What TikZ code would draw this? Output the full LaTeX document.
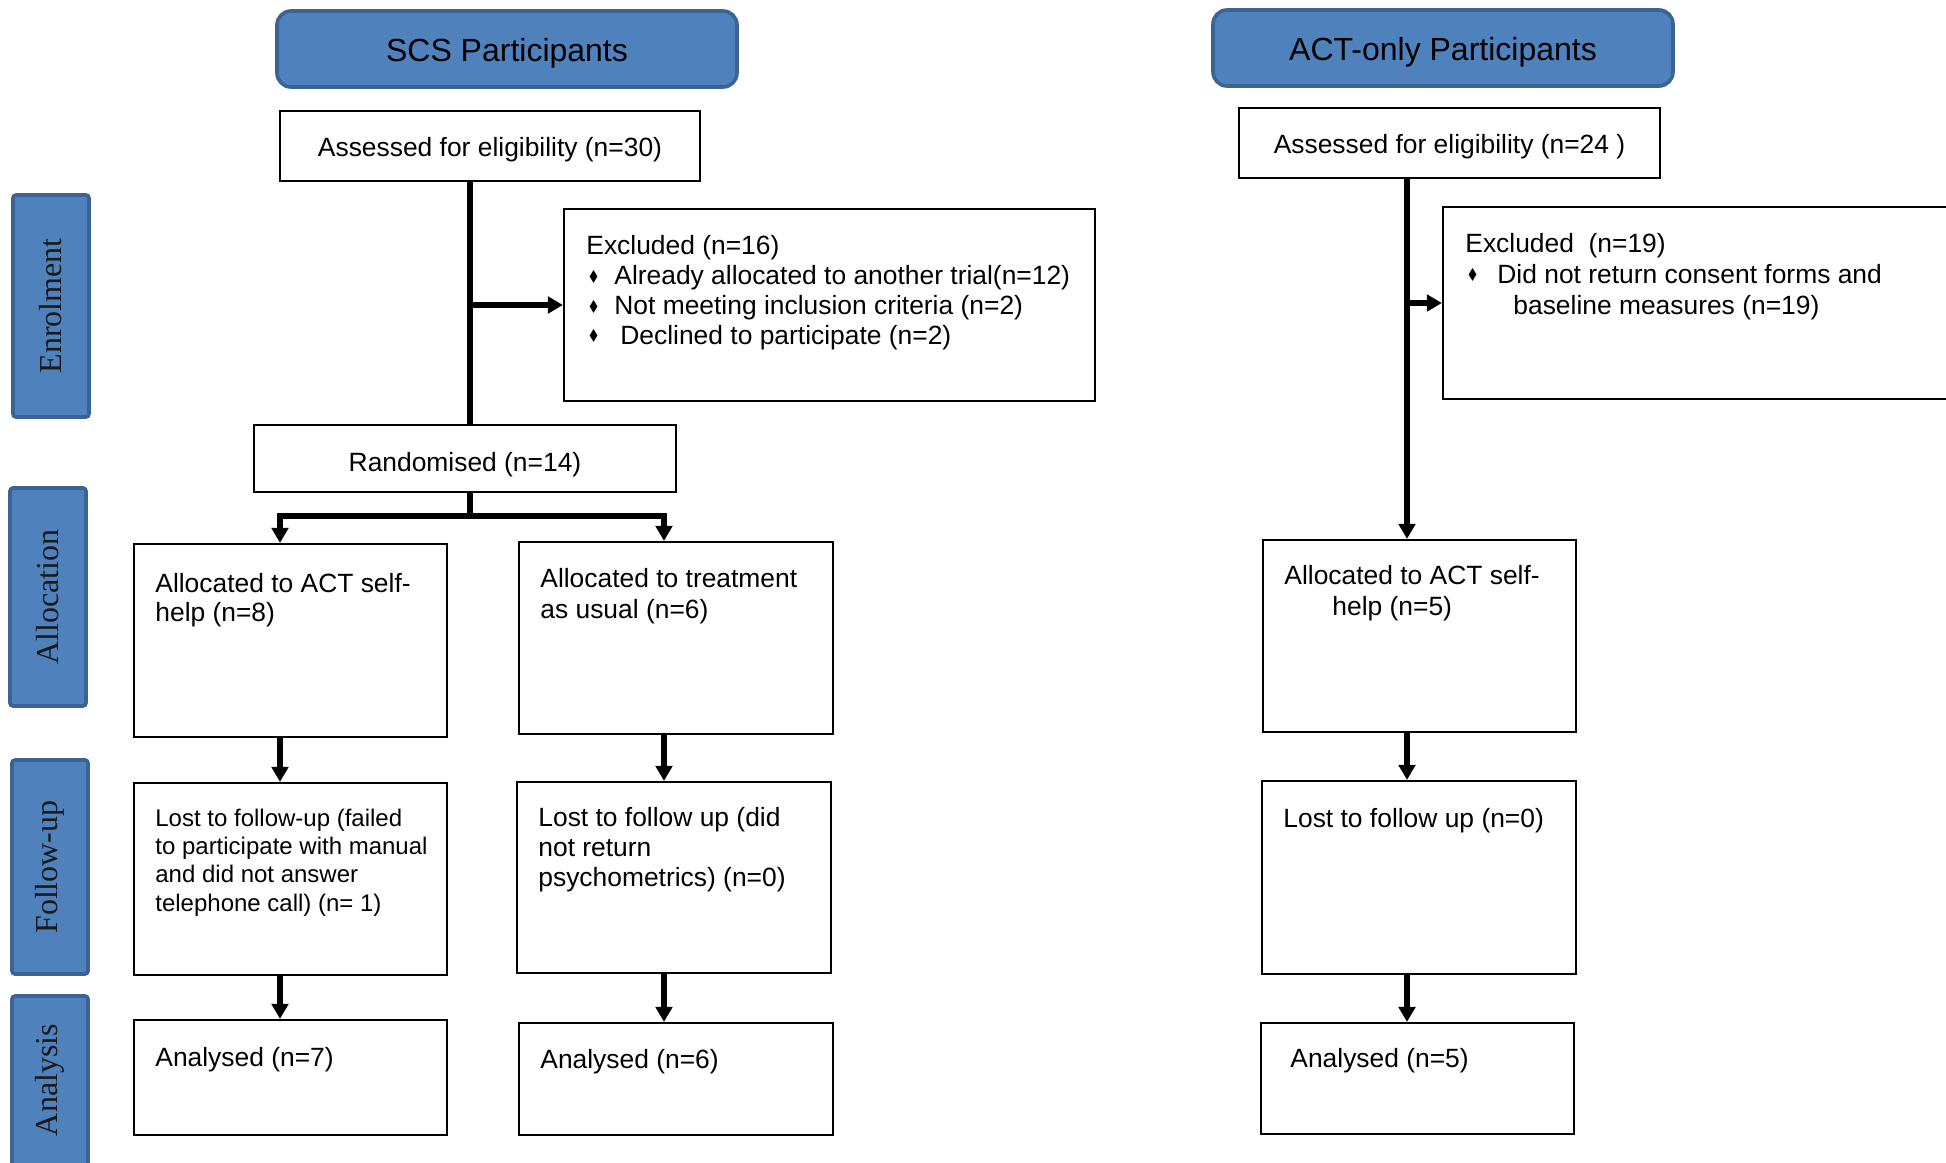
\documentclass[tikz,border=0pt]{standalone}
\usepackage{fontspec}
\usepackage{graphicx}
\setmainfont{Liberation Sans}
\newfontfamily\labfont{Liberation Serif}
\newfontfamily\symfont{DejaVu Sans}
\usetikzlibrary{fit,arrows.meta}
\definecolor{hdblue}{HTML}{4F81BD}
\definecolor{hdedge}{HTML}{3B6393}
\newcommand{\bul}[1]{\makebox[#1][l]{\hspace{0.5pt}\raisebox{0.6pt}{\scalebox{0.78}[1]{\symfont\fontsize{9}{10}\selectfont ♦}}}}
\begin{document}
\begin{tikzpicture}[x=0.5pt,y=-0.5pt,
  box/.style={draw=black, line width=1.1pt, inner sep=0pt, fill=white},
  hdr/.style={draw=hdedge, line width=1.8pt, fill=hdblue, rounded corners=7pt, inner sep=0pt},
  hdrtxt/.style={inner sep=0pt, font=\fontsize{16}{19}\selectfont},
  ctxt/.style={inner sep=0pt, font=\fontsize{13.2}{14.5}\selectfont},
  side/.style={draw=hdedge, line width=1.8pt, fill=hdblue, rounded corners=1.5pt, inner sep=0pt},
  sidetxt/.style={rotate=90, inner sep=0pt, font=\labfont\fontsize{16}{19}\selectfont, text=black!90},
  txt/.style={anchor=base west, align=left, inner sep=0pt, font=\fontsize{13.2}{14.5}\selectfont},
  conn/.style={line width=2.7pt, draw=black},
  arr/.style={conn, -{Triangle[width=8.2pt,length=7.5pt]}},
]
\useasboundingbox (0,0) rectangle (1946,1162);
\clip (0,0) rectangle (1946,1162);

% headers
\node[hdr, fit={(277,11) (737,87)}] (hd1) {};
\node[hdrtxt] (hd1t) at ([yshift=-2pt]hd1.center) {SCS Participants};
\node[hdr, fit={(1213,10) (1673,86)}] (hd2) {};
\node[hdrtxt] (hd2t) at ([yshift=-2pt]hd2.center) {ACT-only Participants};

% side labels
\node[side, fit={(13,195) (89,417)}] (s1) {};
\node[sidetxt] (s1t) at (s1.center) {Enrolment};
\node[side, fit={(10,488) (86,706)}] (s2) {};
\node[sidetxt] (s2t) at (s2.center) {Allocation};
\node[side, fit={(12,760) (88,974)}] (s3) {};
\node[sidetxt] (s3t) at (s3.center) {Follow-up};
\node[side, fit={(12,996) (88,1180)}] (s4) {};
\node[sidetxt] (s4t) at (50,1080) {Analysis};

% SCS column boxes
\node[box, fit={(280,111) (700,181)}] (ass1) {};
\node[ctxt] (ass1t) at ([yshift=-2pt]ass1.center) {Assessed for eligibility (n=30)};
\node[box, fit={(564,209) (1095,401)}] (exc1) {};
\node[box, fit={(254,425) (676,492)}] (rand) {};
\node[ctxt] (randt) at (465,465) {Randomised (n=14)};
\node[box, fit={(134,544) (447,737)}] (a1) {};
\node[box, fit={(519,542) (833,734)}] (a2) {};
\node[box, fit={(134,783) (447,975)}] (l1) {};
\node[box, fit={(517,782) (831,973)}] (l2) {};
\node[box, fit={(134,1020) (447,1135)}] (n1) {};
\node[box, fit={(519,1023) (833,1135)}] (n2) {};

% ACT-only column boxes
\node[box, fit={(1239,108) (1660,178)}] (ass2) {};
\node[ctxt] (ass2t) at ([yshift=-2pt]ass2.center) {Assessed for eligibility (n=24 )};
\node[box, fit={(1443,207) (2000,399)}] (exc2) {};
\node[box, fit={(1263,540) (1576,732)}] (al3) {};
\node[box, fit={(1262,781) (1576,974)}] (lo3) {};
\node[box, fit={(1261,1023) (1574,1134)}] (an3) {};

% box texts (anchored at the baseline of the last line)
\node[txt, font=\fontsize{13.2}{14.85}\selectfont] (te1) at (586,344)
  {Excluded (n=16)\\\bul{14pt}Already allocated to another trial(n=12)\\\bul{14pt}Not meeting inclusion criteria (n=2)\\\bul{17pt}Declined to participate (n=2)};
\node[txt, font=\fontsize{13.2}{15.5}\selectfont] (te2) at (1465,314)
  {Excluded\ \ (n=19)\\\bul{16pt}Did not return consent forms and\\\hspace*{24pt}baseline measures (n=19)};
\node[txt] (ta1) at (155,621) {Allocated to ACT self-\\help (n=8)};
\node[txt, font=\fontsize{13.2}{15.5}\selectfont] (ta2) at (540,618) {Allocated to treatment\\as usual (n=6)};
\node[txt, font=\fontsize{13.2}{15.5}\selectfont] (ta3) at (1284,615) {Allocated to ACT self-\\\hspace*{24pt}help (n=5)};
\node[txt, font=\fontsize{12}{14.15}\selectfont] (tl1) at (155,911)
  {Lost to follow-up (failed\\to participate with manual\\and did not answer\\telephone call) (n= 1)};
\node[txt, font=\fontsize{13.2}{15}\selectfont] (tl2) at (538,886)
  {Lost to follow up (did\\not return\\psychometrics) (n=0)};
\node[txt] (tl3) at (1283,827) {Lost to follow up (n=0)};
\node[txt] (tn1) at (155,1066) {Analysed (n=7)};
\node[txt] (tn2) at (540,1068) {Analysed (n=6)};
\node[txt] (tn3) at (1290,1067) {Analysed (n=5)};

% connector x positions
\coordinate (xA) at (470,0);
\coordinate (xL) at (280,0);
\coordinate (xM) at (664,0);
\coordinate (xR) at (1407,0);
\coordinate (jn) at (470,516);

% SCS connectors
\draw[conn] (ass1.south -| xA) -- (rand.north -| xA);
\draw[arr] (exc1.west -| xA) -- (exc1.west);
\draw[conn] (rand.south -| jn) -- (jn);
\draw[arr] (jn) -| (a1.north -| xL);
\draw[arr] (jn) -| (a2.north -| xM);
\draw[arr] (a1.south -| xL) -- (l1.north -| xL);
\draw[arr] (l1.south -| xL) -- (n1.north -| xL);
\draw[arr] (a2.south -| xM) -- (l2.north -| xM);
\draw[arr] (l2.south -| xM) -- (n2.north -| xM);

% ACT-only connectors
\draw[arr] (ass2.south -| xR) -- (al3.north -| xR);
\draw[arr] (exc2.west -| xR) -- (exc2.west);
\draw[arr] (al3.south -| xR) -- (lo3.north -| xR);
\draw[arr] (lo3.south -| xR) -- (an3.north -| xR);
\end{tikzpicture}
\end{document}
